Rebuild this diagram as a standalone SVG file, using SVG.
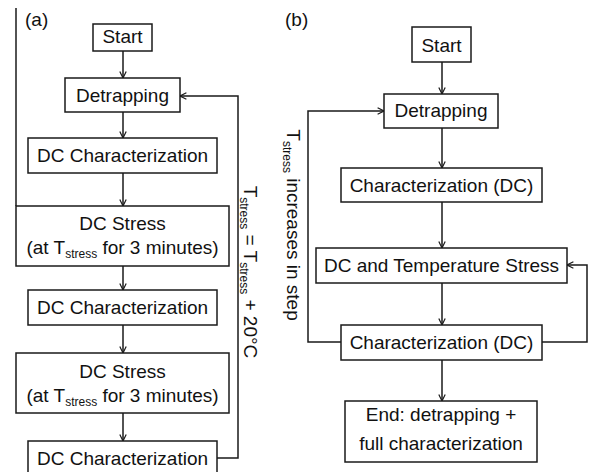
<svg xmlns="http://www.w3.org/2000/svg" width="594" height="472" viewBox="0 0 594 472">
<style>
  .box { fill: #fff; stroke: #1a1a1a; stroke-width: 1.5; }
  .t { font-family: "Liberation Sans", Arial, sans-serif; font-size: 19px; fill: #111; text-anchor: middle; }
  .lbl { font-family: "Liberation Sans", Arial, sans-serif; font-size: 19px; fill: #111; }
  .sub { font-size: 12px; }
  .c { fill: none; stroke: #1a1a1a; stroke-width: 1.5; }
</style>
<defs>
  <marker id="arr" viewBox="0 0 10 10" refX="9" refY="5" markerWidth="8" markerHeight="8" markerUnits="userSpaceOnUse" orient="auto">
    <path d="M1,1 L9,5 L1,9" fill="none" stroke="#1a1a1a" stroke-width="1.5"/>
  </marker>
</defs>
<rect width="594" height="472" fill="#fff"/>

<text class="lbl" x="25" y="26">(a)</text>
<text class="lbl" x="285" y="26">(b)</text>

<g id="connectors">
  <line class="c" x1="16" y1="8" x2="16" y2="206"/>
  <line class="c" x1="123" y1="51" x2="123" y2="78" marker-end="url(#arr)"/>
  <line class="c" x1="123" y1="112" x2="123" y2="138" marker-end="url(#arr)"/>
  <line class="c" x1="123" y1="173" x2="123" y2="206" marker-end="url(#arr)"/>
  <line class="c" x1="123" y1="266" x2="123" y2="290" marker-end="url(#arr)"/>
  <line class="c" x1="123" y1="325" x2="123" y2="353" marker-end="url(#arr)"/>
  <line class="c" x1="123" y1="413" x2="123" y2="441" marker-end="url(#arr)"/>
  <polyline class="c" points="217,458 238,458 238,96 180,96" marker-end="url(#arr)"/>

  <line class="c" x1="442" y1="62" x2="442" y2="94" marker-end="url(#arr)"/>
  <line class="c" x1="442" y1="128" x2="442" y2="168" marker-end="url(#arr)"/>
  <line class="c" x1="442" y1="202" x2="442" y2="248" marker-end="url(#arr)"/>
  <line class="c" x1="442" y1="283" x2="442" y2="325" marker-end="url(#arr)"/>
  <line class="c" x1="442" y1="360" x2="442" y2="401" marker-end="url(#arr)"/>
  <polyline class="c" points="341,342 308,342 308,111 384,111" marker-end="url(#arr)"/>
  <polyline class="c" points="542,342 587,342 587,265 567,265" marker-end="url(#arr)"/>
</g>

<g id="a-start"><rect class="box" x="93" y="24" width="59" height="27"/><text class="t" x="122.5" y="42.5">Start</text></g>
<g id="a-detrap"><rect class="box" x="65" y="78" width="115" height="34"/><text class="t" x="122.5" y="101.5">Detrapping</text></g>
<g id="a-char1"><rect class="box" x="28" y="138" width="189" height="35"/><text class="t" x="122.5" y="162">DC Characterization</text></g>
<g id="a-stress1"><rect class="box" x="16" y="206" width="213" height="60"/>
  <text class="t" x="122.5" y="230">DC Stress</text>
  <text class="t" x="122.5" y="254">(at T<tspan class="sub" dy="4">stress</tspan><tspan dy="-4"> for 3 minutes)</tspan></text></g>
<g id="a-char2"><rect class="box" x="28" y="290" width="189" height="35"/><text class="t" x="122.5" y="314">DC Characterization</text></g>
<g id="a-stress2"><rect class="box" x="16" y="353" width="213" height="60"/>
  <text class="t" x="122.5" y="378">DC Stress</text>
  <text class="t" x="122.5" y="402">(at T<tspan class="sub" dy="4">stress</tspan><tspan dy="-4"> for 3 minutes)</tspan></text></g>
<g id="a-char3"><rect class="box" x="28" y="441" width="189" height="34"/><text class="t" x="122.5" y="465">DC Characterization</text></g>

<g id="a-note"><text class="t" transform="translate(244,272) rotate(90)" font-size="18">T<tspan class="sub" dy="4">stress</tspan><tspan dy="-4"> = T</tspan><tspan class="sub" dy="4">stress</tspan><tspan dy="-4"> + 20°C</tspan></text></g>

<g id="b-start"><rect class="box" x="412" y="27" width="59" height="35"/><text class="t" x="441.5" y="51.5">Start</text></g>
<g id="b-detrap"><rect class="box" x="384" y="94" width="114" height="34"/><text class="t" x="441" y="117">Detrapping</text></g>
<g id="b-char1"><rect class="box" x="341" y="168" width="201" height="34"/><text class="t" x="441.5" y="191.5">Characterization (DC)</text></g>
<g id="b-stress"><rect class="box" x="316" y="248" width="251" height="35"/><text class="t" x="441.5" y="272">DC and Temperature Stress</text></g>
<g id="b-char2"><rect class="box" x="341" y="325" width="201" height="35"/><text class="t" x="441.5" y="349">Characterization (DC)</text></g>
<g id="b-end"><rect class="box" x="345" y="401" width="192" height="61"/>
  <text class="t" x="441" y="421">End: detrapping +</text>
  <text class="t" x="441" y="450">full characterization</text></g>

<g id="b-note"><text class="t" transform="translate(287,225) rotate(90)">T<tspan class="sub" dy="4">stress</tspan><tspan dy="-4"> increases in step</tspan></text></g>
</svg>
